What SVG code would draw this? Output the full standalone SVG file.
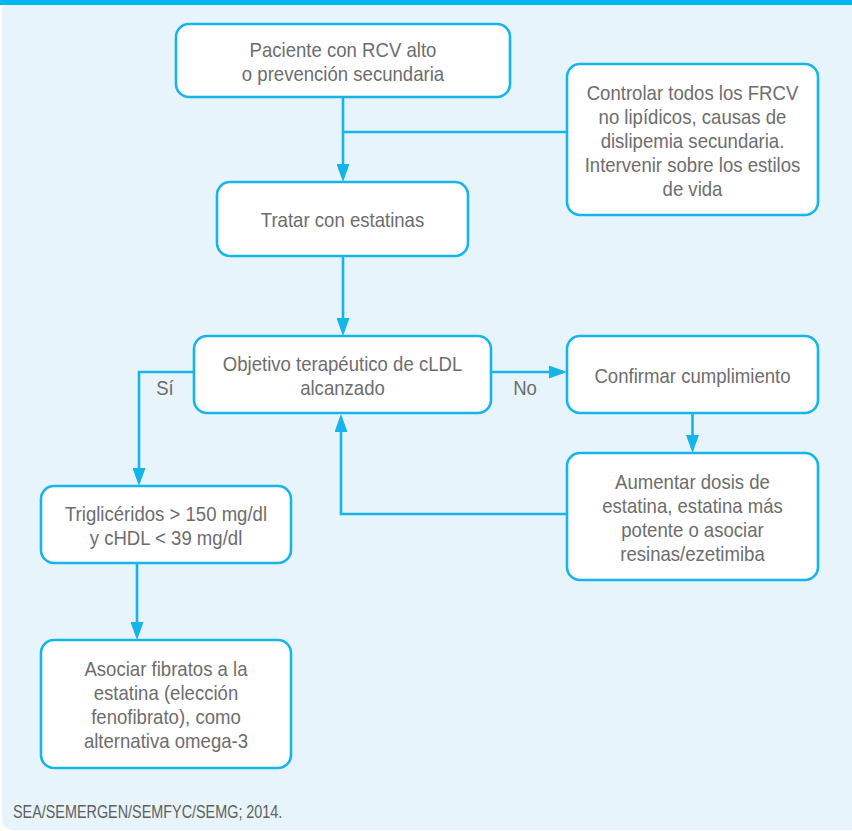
<svg xmlns="http://www.w3.org/2000/svg" width="852" height="831" viewBox="0 0 852 831">
<style>
.box{fill:#ffffff;stroke:#15b5ea;stroke-width:2.6}
.ln{fill:none;stroke:#15b5ea;stroke-width:2.6}
.t{font-family:"Liberation Sans",Arial,sans-serif;font-size:21px;fill:#6d6d6d;text-anchor:middle}
.f{font-family:"Liberation Sans",Arial,sans-serif;font-size:18px;fill:#5f5f5f}
</style>
<defs>
<marker id="ah" markerUnits="userSpaceOnUse" markerWidth="18" markerHeight="13" refX="14" refY="6.5" orient="auto">
<path d="M0,0 L18,6.5 L0,13 Z" fill="#15b5ea"/>
</marker>
</defs>
<rect x="0" y="0" width="852" height="831" fill="#ffffff"/>
<rect x="2" y="0" width="870" height="830" rx="10" fill="#e7f4fb"/>
<rect x="0" y="0" width="852" height="5" fill="#00b8ef"/>

<g id="connectors">
<path class="ln" d="M343,97 V178" marker-end="url(#ah)"/>
<path class="ln" d="M567,132 H343"/>
<path class="ln" d="M343,256 V332" marker-end="url(#ah)"/>
<path class="ln" d="M194,372 H139 V482" marker-end="url(#ah)"/>
<path class="ln" d="M491,372 H563" marker-end="url(#ah)"/>
<path class="ln" d="M692.5,413 V449" marker-end="url(#ah)"/>
<path class="ln" d="M567,514 H341 V418" marker-end="url(#ah)"/>
<path class="ln" d="M137,563 V636" marker-end="url(#ah)"/>
<g transform="matrix(0.885 0 0 1 18.975 0)"><text class="t" x="165" y="395">Sí</text></g>
<g transform="matrix(0.885 0 0 1 60.375 0)"><text class="t" x="525" y="395">No</text></g>
</g>

<g id="n1">
<rect class="box" x="176" y="24" width="334" height="73" rx="13"/>
<g transform="matrix(0.885 0 0 1 39.445 0)">
<text class="t" x="343" y="57">Paciente con RCV alto</text>
<text class="t" x="343" y="81">o prevención secundaria</text>
</g>
</g>

<g id="n2">
<rect class="box" x="567" y="64" width="251" height="151" rx="13"/>
<g transform="matrix(0.885 0 0 1 79.64 0)">
<text class="t" x="692.5" y="100">Controlar todos los FRCV</text>
<text class="t" x="692.5" y="124">no lipídicos, causas de</text>
<text class="t" x="692.5" y="148">dislipemia secundaria.</text>
<text class="t" x="692.5" y="172">Intervenir sobre los estilos</text>
<text class="t" x="692.5" y="196">de vida</text>
</g>
</g>

<g id="n3">
<rect class="box" x="217" y="182" width="251" height="74" rx="13"/>
<g transform="matrix(0.885 0 0 1 39.39 0)">
<text class="t" x="342.5" y="227">Tratar con estatinas</text>
</g>
</g>

<g id="n4">
<rect class="box" x="194" y="336" width="297" height="77" rx="13"/>
<g transform="matrix(0.885 0 0 1 39.39 0)">
<text class="t" x="342.5" y="371">Objetivo terapéutico de cLDL</text>
<text class="t" x="342.5" y="395">alcanzado</text>
</g>
</g>

<g id="n5">
<rect class="box" x="567" y="336" width="251" height="77" rx="13"/>
<g transform="matrix(0.885 0 0 1 79.64 0)">
<text class="t" x="692.5" y="383">Confirmar cumplimiento</text>
</g>
</g>

<g id="n6">
<rect class="box" x="567" y="453" width="251" height="127" rx="13"/>
<g transform="matrix(0.885 0 0 1 79.64 0)">
<text class="t" x="692.5" y="489">Aumentar dosis de</text>
<text class="t" x="692.5" y="513">estatina, estatina más</text>
<text class="t" x="692.5" y="537">potente o asociar</text>
<text class="t" x="692.5" y="561">resinas/ezetimiba</text>
</g>
</g>

<g id="n7">
<rect class="box" x="41" y="486" width="250" height="77" rx="13"/>
<g transform="matrix(0.885 0 0 1 19.09 0)">
<text class="t" x="166" y="521">Triglicéridos &gt; 150 mg/dl</text>
<text class="t" x="166" y="545">y cHDL &lt; 39 mg/dl</text>
</g>
</g>

<g id="n8">
<rect class="box" x="41" y="640" width="250" height="128" rx="13"/>
<g transform="matrix(0.885 0 0 1 19.09 0)">
<text class="t" x="166" y="676">Asociar fibratos a la</text>
<text class="t" x="166" y="700">estatina (elección</text>
<text class="t" x="166" y="724">fenofibrato), como</text>
<text class="t" x="166" y="748">alternativa omega-3</text>
</g>
</g>

<g id="footer" transform="matrix(0.8 0 0 1 2.6 0)">
<text class="f" x="13" y="818">SEA/SEMERGEN/SEMFYC/SEMG; 2014.</text>
</g>
</svg>
